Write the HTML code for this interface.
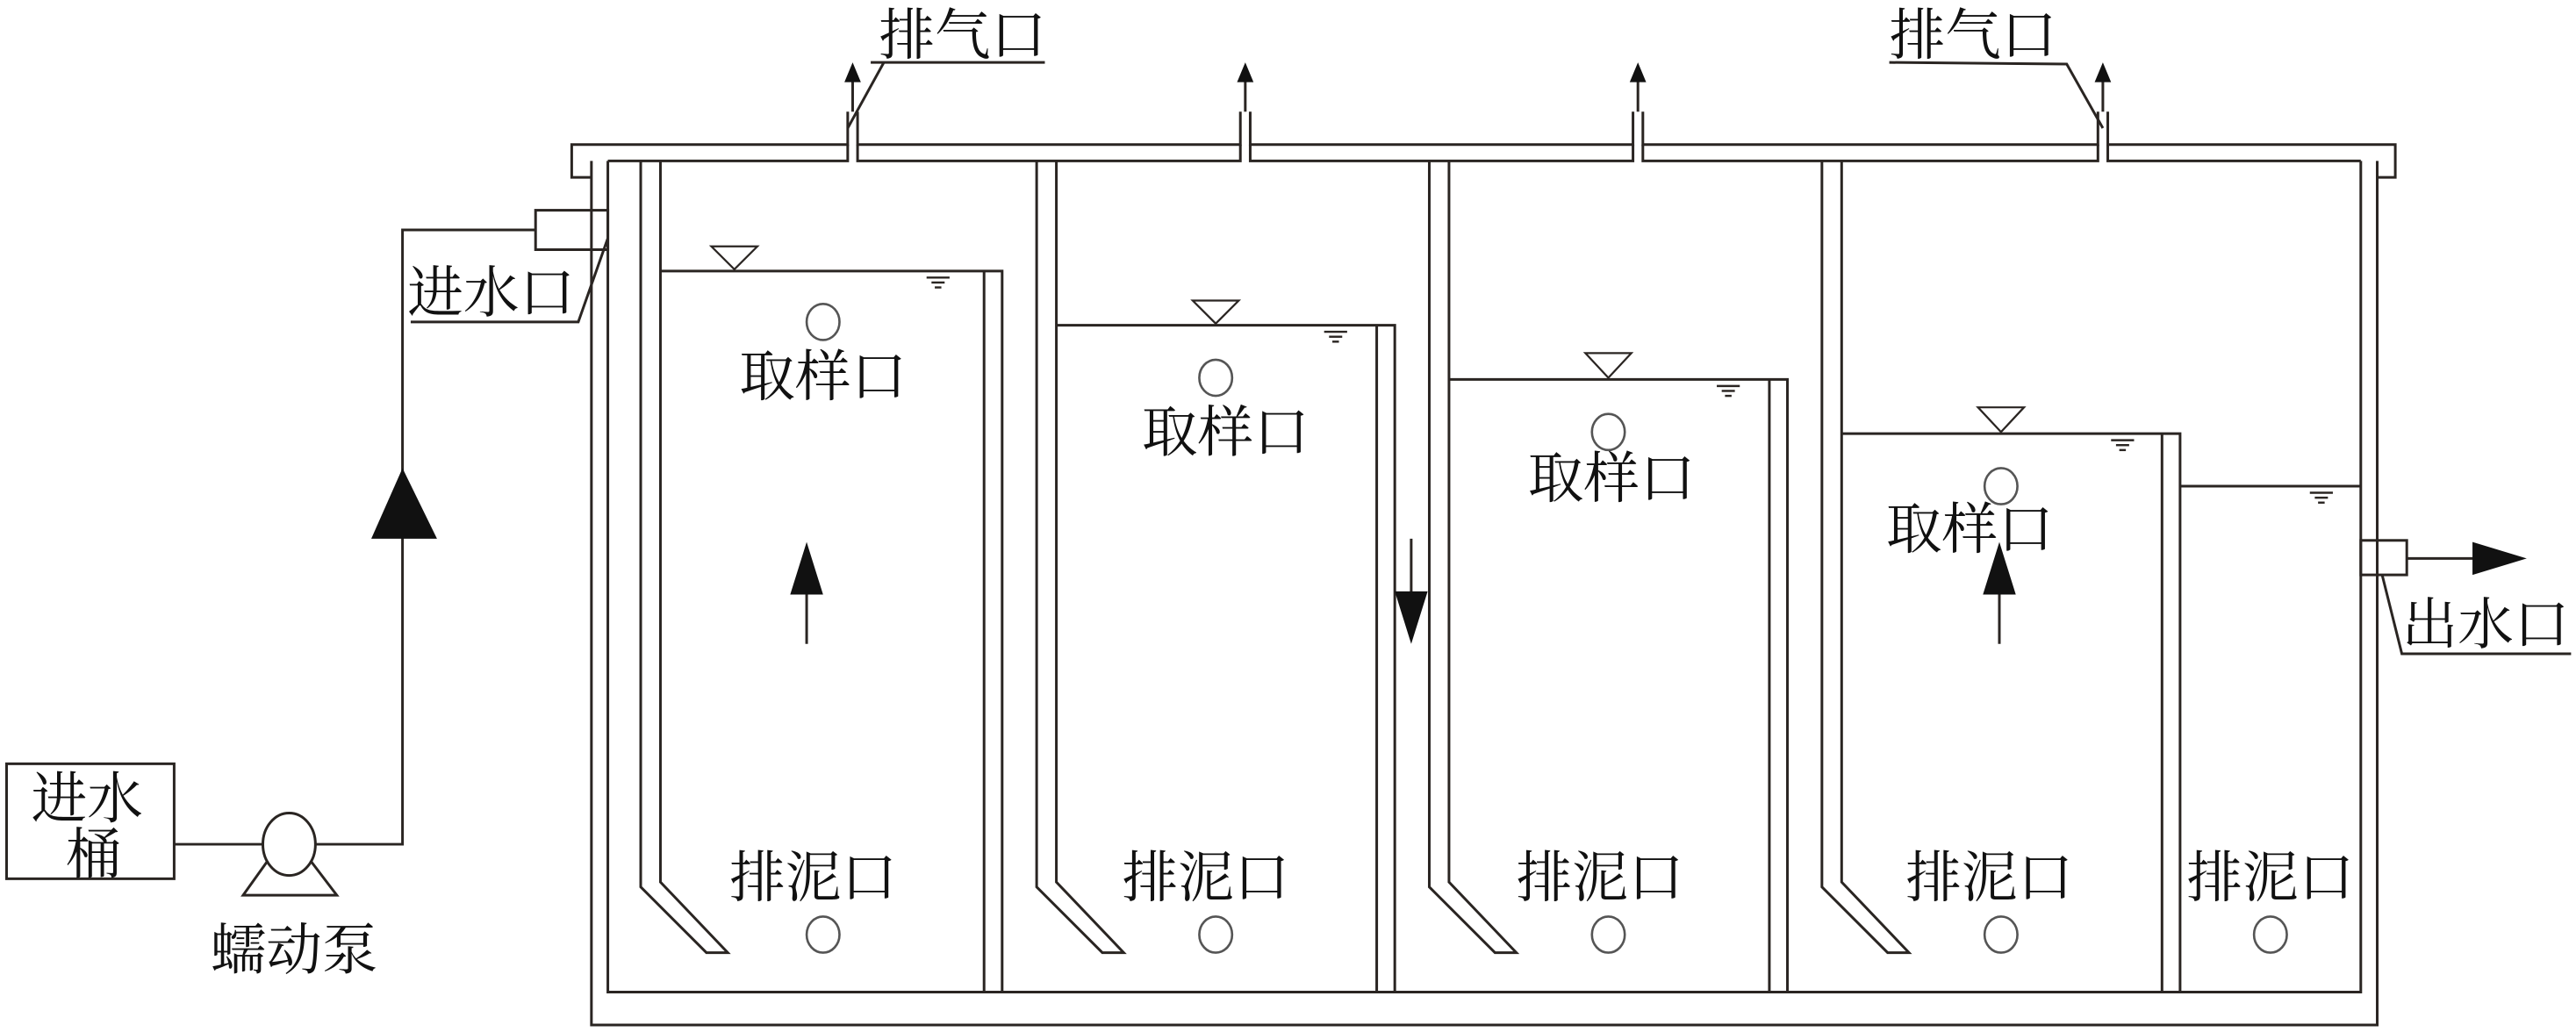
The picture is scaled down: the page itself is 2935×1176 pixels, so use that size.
<!DOCTYPE html>
<html><head><meta charset="utf-8"><style>
html,body{margin:0;padding:0;background:#fff;}
svg{display:block;}
text{font-family:"Liberation Serif","Noto Serif CJK SC",serif;font-size:34px;fill:#111;}
</style></head><body>
<svg width="2935" height="1176" viewBox="0 0 1568 628.3" preserveAspectRatio="none" xmlns="http://www.w3.org/2000/svg">
<g fill="none" stroke="#2a2522" stroke-width="1.6">
<polyline points="360,108 348,108 348,88 516,88 516,68"/>
<polyline points="522,68 522,88 755,88 755,68"/>
<polyline points="761,68 761,88 994,88 994,68"/>
<polyline points="1000,68 1000,88 1277,88 1277,68"/>
<polyline points="1283,68 1283,88 1458,88 1458,108 1447,108"/>
<polyline points="370,98 516,98 516,88"/>
<polyline points="522,88 522,98 755,98 755,88"/>
<polyline points="761,88 761,98 994,98 994,88"/>
<polyline points="1000,88 1000,98 1277,98 1277,88"/>
<polyline points="1283,88 1283,98 1437,98"/>
<polyline points="360,98 360,624 1447,624 1447,98"/>
<polyline points="370,98 370,604 1437,604 1437,98"/>
<polyline points="390,98 390,540 430,580 443,580 402,537 402,98"/>
<polyline points="631,98 631,540 671,580 684,580 643,537 643,98"/>
<polyline points="870,98 870,540 910,580 923,580 882,537 882,98"/>
<polyline points="1109,98 1109,540 1149,580 1162,580 1121,537 1121,98"/>
<polyline points="402,165 610,165 610,604"/><line x1="599" y1="165" x2="599" y2="604"/>
<polyline points="643,198 849,198 849,604"/><line x1="838" y1="198" x2="838" y2="604"/>
<polyline points="882,231 1088,231 1088,604"/><line x1="1077" y1="231" x2="1077" y2="604"/>
<polyline points="1121,264 1327,264 1327,604"/><line x1="1316" y1="264" x2="1316" y2="604"/>
<line x1="1327" y1="296" x2="1437" y2="296"/>
<polygon points="433,150 461,150 447,164" stroke-width="1.2"/>
<polygon points="726,183 754,183 740,197" stroke-width="1.2"/>
<polygon points="965,215 993,215 979,230" stroke-width="1.2"/>
<polygon points="1204,248 1232,248 1218,263" stroke-width="1.2"/>
<g stroke="#555" stroke-width="1.4">
<ellipse cx="501" cy="196" rx="10" ry="11"/><ellipse cx="740" cy="230" rx="10" ry="11"/>
<ellipse cx="979" cy="263" rx="10" ry="11"/><ellipse cx="1218" cy="296" rx="10" ry="11"/>
<ellipse cx="501" cy="569" rx="10" ry="11"/><ellipse cx="740" cy="569" rx="10" ry="11"/>
<ellipse cx="979" cy="569" rx="10" ry="11"/><ellipse cx="1218" cy="569" rx="10" ry="11"/>
<ellipse cx="1382" cy="569" rx="10" ry="11"/>
</g>
<rect x="326" y="128" width="44" height="24"/>
<polyline points="326,140 245,140 245,514 192,514"/>
<line x1="106" y1="514" x2="160" y2="514"/>
<rect x="4" y="465" width="102" height="70"/>
<ellipse cx="176" cy="514" rx="16" ry="19"/>
<polyline points="163,524 148,545 205,545 189,524"/>
<polyline points="250,196 352,196 370,145"/>
<rect x="1437" y="329" width="28" height="21"/>
<line x1="1465" y1="340" x2="1510" y2="340"/>
<polyline points="1450,350 1462,398 1565,398"/>
<polyline points="530,38 636,38"/><line x1="538" y1="38" x2="516" y2="78"/>
<polyline points="1150,38 1258,39 1280,78"/>
<line x1="491" y1="355" x2="491" y2="392"/>
<line x1="1217" y1="355" x2="1217" y2="392"/>
<line x1="859" y1="328" x2="859" y2="365"/>
<line x1="519" y1="48" x2="519" y2="68"/><line x1="758" y1="48" x2="758" y2="68"/>
<line x1="997" y1="48" x2="997" y2="68"/><line x1="1280" y1="48" x2="1280" y2="68"/>
</g>
<g fill="#111">
<polygon points="245,285 226,328 266,328"/>
<polygon points="491,330 481,362 501,362"/>
<polygon points="1217,330 1207,362 1227,362"/>
<polygon points="859,392 849,360 869,360"/>
<polygon points="1538,340 1505,330 1505,350"/>
<polygon points="519,38 514,50 524,50"/><polygon points="758,38 753,50 763,50"/>
<polygon points="997,38 992,50 1002,50"/><polygon points="1280,38 1275,50 1285,50"/>
</g>
<g stroke="#2a2522" stroke-width="1.3">
<line x1="564" y1="169" x2="578" y2="169"/><line x1="567" y1="172" x2="575" y2="172"/><line x1="569" y1="175" x2="573" y2="175"/>
<line x1="806" y1="202" x2="820" y2="202"/><line x1="809" y1="205" x2="817" y2="205"/><line x1="811" y1="208" x2="815" y2="208"/>
<line x1="1045" y1="235" x2="1059" y2="235"/><line x1="1048" y1="238" x2="1056" y2="238"/><line x1="1050" y1="241" x2="1054" y2="241"/>
<line x1="1285" y1="268" x2="1299" y2="268"/><line x1="1288" y1="271" x2="1296" y2="271"/><line x1="1290" y1="274" x2="1294" y2="274"/>
<line x1="1406" y1="300" x2="1420" y2="300"/><line x1="1409" y1="303" x2="1417" y2="303"/><line x1="1411" y1="306" x2="1415" y2="306"/>
</g>
<text x="535" y="33">排气口</text>
<text x="1150" y="33">排气口</text>
<text x="248" y="190">进水口</text>
<text x="1462" y="392">出水口</text>
<text x="19" y="498">进水</text>
<text x="40" y="532">桶</text>
<text x="128" y="590">蠕动泵</text>
<text x="450" y="241">取样口</text>
<text x="695" y="275">取样口</text>
<text x="930" y="303">取样口</text>
<text x="1148" y="334">取样口</text>
<text x="444" y="546">排泥口</text>
<text x="683" y="546">排泥口</text>
<text x="923" y="546">排泥口</text>
<text x="1160" y="546">排泥口</text>
<text x="1331" y="546">排泥口</text>
</svg>
</body></html>
